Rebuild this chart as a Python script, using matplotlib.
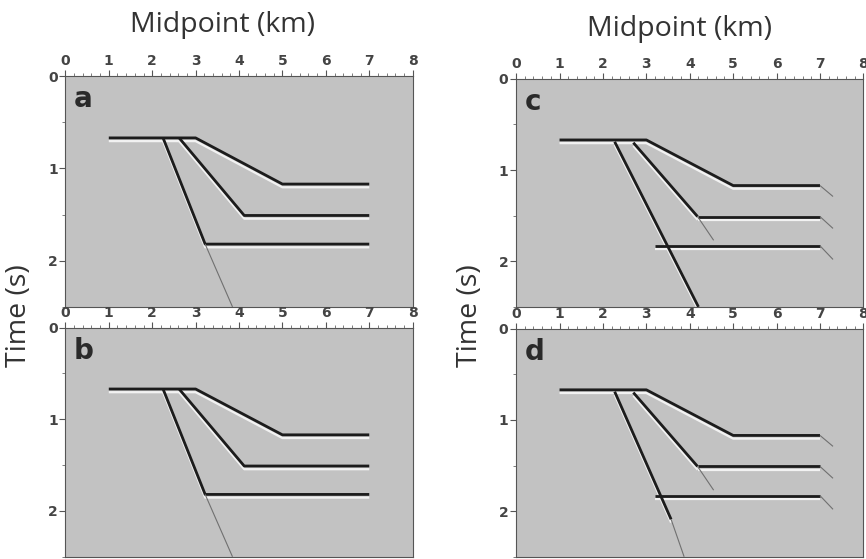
import matplotlib
matplotlib.use("Agg")
import matplotlib.pyplot as plt
from matplotlib.ticker import MultipleLocator
from matplotlib.patches import Rectangle

plt.rcParams['hatch.color'] = '#9a9a9a'
plt.rcParams['hatch.linewidth'] = 0.7

# ---- data (midpoint km, time s) ----
panel_labels = ['a', 'b', 'c', 'd']
x_ticks = [0, 1, 2, 3, 4, 5, 6, 7, 8]
t_ticks = [0, 1, 2]

# reflector 1 (gentle dip)
r1_x = [1.0, 3.0, 5.0, 7.0]
r1_t = [0.67, 0.67, 1.17, 1.17]
# reflector 2 (medium dip)
r2_x = [2.62, 4.12, 7.0]
r2_t = [0.67, 1.51, 1.51]
# reflector 3 (steep dip)
r3_x = [2.25, 3.22, 7.0]
r3_t = [0.67, 1.82, 1.82]
# faint diffraction continuation of the steep reflector (a, b)
ab_tail_x = [3.22, 3.85]
ab_tail_t = [1.82, 2.5]

# panels c / d: steep dip continues, flat segment separated
cd_r2_x = [2.7, 4.18]
cd_r2_t = [0.70, 1.51]
cd_r2_flat_x = [4.18, 7.0]
cd_r2_flat_t = [1.51, 1.51]
cd_r2_tail_x = [4.18, 4.55]
cd_r2_tail_t = [1.51, 1.77]
cd_r3_flat_x = [3.2, 7.0]
cd_r3_flat_t = [1.83, 1.83]
c_steep_x = [2.27, 4.2]
c_steep_t = [0.69, 2.5]
d_steep_x = [2.27, 3.57]
d_steep_t = [0.69, 2.09]
d_steep_tail_x = [3.57, 3.87]
d_steep_tail_t = [2.09, 2.5]
end_tail_x = [7.0, 7.3]
end_tail_r1 = [1.17, 1.29]
end_tail_r2 = [1.51, 1.64]
end_tail_r3 = [1.83, 1.98]

fig = plt.figure(figsize=(8.66, 5.59), dpi=100)
positions = {
    'a': [0.0755, 0.451, 0.401, 0.413],
    'b': [0.0755, 0.004, 0.401, 0.410],
    'c': [0.596, 0.451, 0.401, 0.408],
    'd': [0.596, 0.004, 0.401, 0.408],
}

DARK = '#1c1c1c'
FAINT = '#707070'
HALO = '#f2f2f2'


def refl(ax, x, t, faint=False):
    if faint:
        ax.plot(x, t, color=FAINT, lw=0.8, solid_capstyle='butt', zorder=3)
        return
    ax.plot(x, [v + 0.035 for v in t], color=HALO, lw=1.6, zorder=2,
            solid_capstyle='butt')
    ax.plot(x, t, color=DARK, lw=2.0, zorder=3, solid_capstyle='butt')


for lab in panel_labels:
    ax = fig.add_axes(positions[lab])
    ax.set_xlim(0, 8)
    ax.set_ylim(2.5, 0)
    ax.patch.set_facecolor('#c2c2c2')
    ax.add_patch(Rectangle((0, 0), 1, 1, transform=ax.transAxes,
                           facecolor='#c2c2c2', edgecolor='none',
                           hatch='......', zorder=0.5))
    ax.xaxis.tick_top()
    ax.set_xticks(x_ticks)
    ax.set_yticks(t_ticks)
    ax.xaxis.set_minor_locator(MultipleLocator(0.2))
    ax.yaxis.set_minor_locator(MultipleLocator(0.5))
    ax.tick_params(axis='both', which='major', length=4, width=0.8,
                   color='#555555', labelsize=10, labelcolor='#444444', pad=1.5)
    ax.tick_params(axis='both', which='minor', length=2, width=0.6,
                   color='#666666')
    ax.tick_params(axis='y', which='both', right=False)
    ax.tick_params(axis='x', which='both', bottom=False)
    for lbl in ax.get_xticklabels() + ax.get_yticklabels():
        lbl.set_fontweight('bold')
    for s in ax.spines.values():
        s.set_color('#555555')
        s.set_linewidth(0.8)

    refl(ax, r1_x, r1_t)
    if lab in ('a', 'b'):
        refl(ax, r2_x, r2_t)
        refl(ax, r3_x, r3_t)
        refl(ax, ab_tail_x, ab_tail_t, faint=True)
    else:
        refl(ax, cd_r2_x, cd_r2_t)
        refl(ax, cd_r2_flat_x, cd_r2_flat_t)
        refl(ax, cd_r2_tail_x, cd_r2_tail_t, faint=True)
        refl(ax, cd_r3_flat_x, cd_r3_flat_t)
        refl(ax, end_tail_x, end_tail_r1, faint=True)
        refl(ax, end_tail_x, end_tail_r2, faint=True)
        refl(ax, end_tail_x, end_tail_r3, faint=True)
        if lab == 'c':
            refl(ax, c_steep_x, c_steep_t)
        else:
            refl(ax, d_steep_x, d_steep_t)
            refl(ax, d_steep_tail_x, d_steep_tail_t, faint=True)

    ax.text(0.2, 0.34, lab, fontsize=20, fontweight='bold', color='#2a2a2a',
            family=['Liberation Sans Narrow', 'DejaVu Sans'],
            ha='left', va='baseline', zorder=5)

fig.text(0.257, 0.955, 'Midpoint (km)', fontsize=20.5, color='#333333',
         family=['Open Sans', 'DejaVu Sans'], ha='center', va='center')
fig.text(0.785, 0.948, 'Midpoint (km)', fontsize=20.5, color='#333333',
         family=['Open Sans', 'DejaVu Sans'], ha='center', va='center')
fig.text(0.022, 0.435, 'Time (s)', fontsize=20.5, color='#333333', rotation=90,
         family=['Open Sans', 'DejaVu Sans'], ha='center', va='center')
fig.text(0.543, 0.435, 'Time (s)', fontsize=20.5, color='#333333', rotation=90,
         family=['Open Sans', 'DejaVu Sans'], ha='center', va='center')

fig.savefig('out.png', dpi=100)
